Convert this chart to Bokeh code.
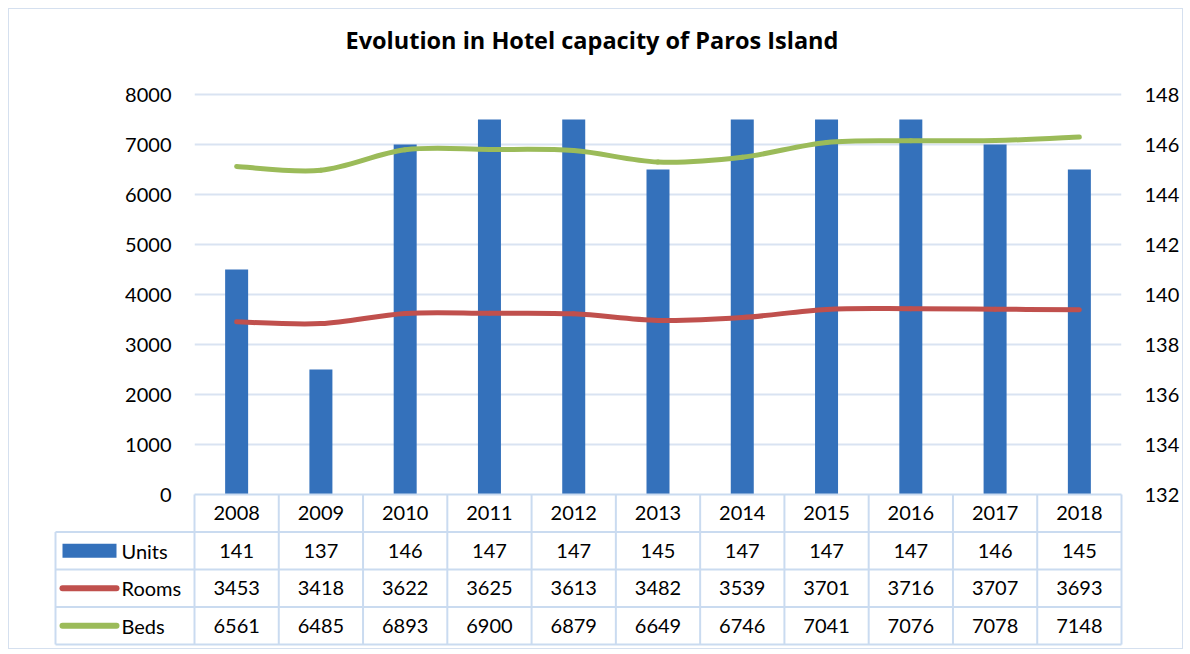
from bokeh.plotting import figure
from bokeh.models import Range1d, LinearAxis, FixedTicker, Grid, Title
from bokeh.embed import file_html
from bokeh.resources import INLINE
from bokeh.core.properties import value

# ---------------- data ----------------
years = ["2008", "2009", "2010", "2011", "2012", "2013", "2014", "2015", "2016", "2017", "2018"]
units = [141, 137, 146, 147, 147, 145, 147, 147, 147, 146, 145]
rooms = [3453, 3418, 3622, 3625, 3613, 3482, 3539, 3701, 3716, 3707, 3693]
beds = [6561, 6485, 6893, 6900, 6879, 6649, 6746, 7041, 7076, 7078, 7148]
series_names = ["Units", "Rooms", "Beds"]
left_ticks = [0, 1000, 2000, 3000, 4000, 5000, 6000, 7000, 8000]
right_ticks = [132, 134, 136, 138, 140, 142, 144, 146, 148]
title_text = "Evolution in Hotel capacity of Paros Island"

# ---------------- style ----------------
FONT = "Lato"
FS = "20px"
BAR_COLOR = "#3471BB"
ROOMS_COLOR = "#C0504D"
BEDS_COLOR = "#9BBB59"
GRID_COLOR = "#D9E3F2"
TABLE_COLOR = "#CADBF0"
TEXT_COLOR = "#000000"

n = len(years)
xc = [i + 0.5 for i in range(n)]

FRAME_W = 927          # px, plot area width
PLOT_H = 400           # px, value axis height
COL_PX = FRAME_W / n
ymin, ymax = left_ticks[0], left_ticks[-1]
U = (ymax - ymin) / PLOT_H          # data units per pixel (left axis)
r_lo, r_hi = right_ticks[0], right_ticks[-1]
RU = (r_hi - r_lo) / PLOT_H         # data units per pixel (right axis)
ROW = 37.5 * U                      # table row height in data units
TABLE_BOTTOM = -4 * ROW

TOP_PAD_PX = 2
BOT_PAD_PX = 1
frame_h = PLOT_H + TOP_PAD_PX + int(round(-TABLE_BOTTOM / U)) + BOT_PAD_PX

p = figure(frame_width=FRAME_W, frame_height=frame_h,
           min_border_left=185, min_border_right=61, min_border_top=83, min_border_bottom=3,
           x_range=Range1d(0, n),
           y_range=Range1d(TABLE_BOTTOM - BOT_PAD_PX * U, ymax + TOP_PAD_PX * U),
           x_axis_type=None, y_axis_type=None,
           output_backend="svg", toolbar_location=None,
           styles={"border": "1px solid #D5E0EF", "margin": "8px 0 0 8px"})
p.outline_line_color = None
p.title.text = ""

# spacer between title and plot area, then the title itself
p.add_layout(Title(text=" ", text_font_size="1px", standoff=34), "above")
p.add_layout(Title(text=title_text, align="left", offset=151, standoff=0,
                   text_font="Open Sans", text_font_size="23.5px",
                   text_font_style="bold", text_color=TEXT_COLOR), "above")

p.extra_y_ranges = {"units": Range1d(r_lo + (TABLE_BOTTOM - BOT_PAD_PX * U) / U * RU,
                                     r_hi + TOP_PAD_PX * RU)}

ax_kw = dict(axis_line_color=None, major_tick_line_color=None, minor_tick_line_color=None,
             major_tick_out=0, major_tick_in=0,
             major_label_text_font=FONT, major_label_text_font_size=FS,
             major_label_text_color=TEXT_COLOR)
left_axis = LinearAxis(ticker=FixedTicker(ticks=left_ticks), major_label_standoff=23, **ax_kw)
right_axis = LinearAxis(y_range_name="units", ticker=FixedTicker(ticks=right_ticks),
                        major_label_standoff=23, **ax_kw)
p.add_layout(left_axis, "left")
p.add_layout(right_axis, "right")
p.add_layout(Grid(dimension=1, ticker=FixedTicker(ticks=left_ticks[1:]),
                  grid_line_color=GRID_COLOR, grid_line_width=2))

# bars (Units on right axis)
p.vbar(x=xc, top=units, bottom=r_lo, width=23 / COL_PX, y_range_name="units",
       fill_color=BAR_COLOR, line_color=None)


def smooth(ys):
    x0, y0, x1, y1, cx0, cy0, cx1, cy1 = [], [], [], [], [], [], [], []
    m = len(ys)
    for i in range(m - 1):
        p0 = (xc[max(i - 1, 0)], ys[max(i - 1, 0)])
        p1 = (xc[i], ys[i])
        p2 = (xc[i + 1], ys[i + 1])
        p3 = (xc[min(i + 2, m - 1)], ys[min(i + 2, m - 1)])
        x0.append(p1[0]); y0.append(p1[1]); x1.append(p2[0]); y1.append(p2[1])
        cx0.append(p1[0] + (p2[0] - p0[0]) / 6); cy0.append(p1[1] + (p2[1] - p0[1]) / 6)
        cx1.append(p2[0] - (p3[0] - p1[0]) / 6); cy1.append(p2[1] - (p3[1] - p1[1]) / 6)
    return dict(x0=x0, y0=y0, x1=x1, y1=y1, cx0=cx0, cy0=cy0, cx1=cx1, cy1=cy1)


for ys, col in ((rooms, ROOMS_COLOR), (beds, BEDS_COLOR)):
    p.bezier(**smooth(ys), line_color=col, line_width=5, line_cap="round")

# ---------------- data table (below the value axis) ----------------
LEG_L = -(194 - 55) / COL_PX
row_y = [-k * ROW for k in range(5)]        # row boundaries
row_c = [-(k + 0.5) * ROW for k in range(4)]  # row centres

# horizontal lines
p.segment(x0=[0], y0=[row_y[0]], x1=[n], y1=[row_y[0]],
          line_color=TABLE_COLOR, line_width=2, level="annotation")
p.segment(x0=[LEG_L] * 4, y0=row_y[1:], x1=[n] * 4, y1=row_y[1:],
          line_color=TABLE_COLOR, line_width=2, level="annotation")
# vertical lines
p.segment(x0=list(range(n + 1)), y0=[row_y[0]] * (n + 1), x1=list(range(n + 1)),
          y1=[row_y[4]] * (n + 1), line_color=TABLE_COLOR, line_width=2, level="annotation")
p.segment(x0=[LEG_L], y0=[row_y[1]], x1=[LEG_L], y1=[row_y[4]],
          line_color=TABLE_COLOR, line_width=2, level="annotation")

txt_kw = dict(text_font=value(FONT), text_font_size=value(FS), text_color=TEXT_COLOR,
              text_baseline="middle")
p.text(x=xc, y=[row_c[0]] * n, text=years, text_align="center", **txt_kw)
for r, vals in enumerate((units, rooms, beds), start=1):
    p.text(x=xc, y=[row_c[r]] * n, text=[str(v) for v in vals], text_align="center", **txt_kw)

# legend keys inside the table
sx0 = (62 - 194) / COL_PX
sx1 = (116 - 194) / COL_PX
p.quad(left=[sx0], right=[sx1], top=[row_c[1] + 7 * U], bottom=[row_c[1] - 7 * U],
       fill_color=BAR_COLOR, line_color=None, level="annotation")
p.segment(x0=[sx0, sx0], y0=[row_c[2], row_c[3]], x1=[sx1, sx1], y1=[row_c[2], row_c[3]],
          line_color=[ROOMS_COLOR, BEDS_COLOR], line_width=6, line_cap="round",
          level="annotation")
p.text(x=[(121 - 194) / COL_PX] * 3, y=row_c[1:], text=series_names,
       text_align="left", level="annotation", **txt_kw)

open("out.html", "w").write(file_html(p, INLINE))
